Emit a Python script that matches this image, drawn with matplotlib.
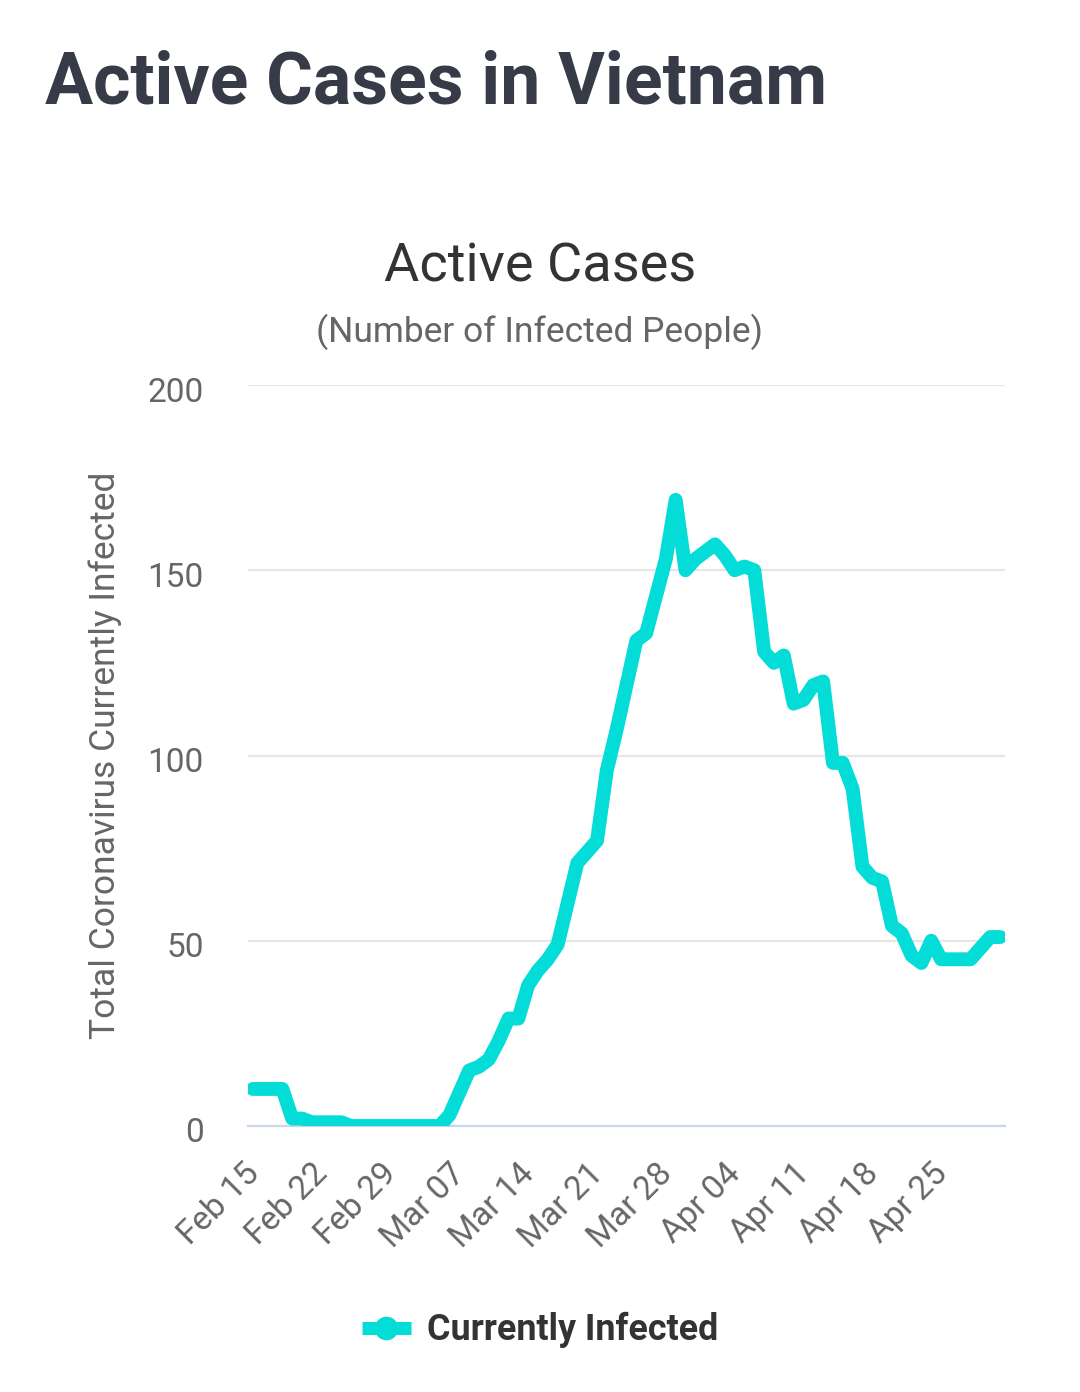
import numpy as np
import matplotlib.pyplot as plt
from matplotlib.lines import Line2D
from matplotlib.transforms import ScaledTranslation

# daily active cases, Feb 15 .. May 1
tick_labels = ['Feb 15', 'Feb 22', 'Feb 29', 'Mar 07', 'Mar 14', 'Mar 21',
               'Mar 28', 'Apr 04', 'Apr 11', 'Apr 18', 'Apr 25']
active = [10, 10, 10, 10, 2, 2, 1, 1, 1, 1,
          0, 0, 0, 0, 0, 0, 0, 0, 0, 0,
          3, 9, 15, 16, 18, 23, 29, 29, 38, 42,
          45, 49, 60, 71, 74, 77, 96, 107, 119, 131,
          133, 143, 153, 169, 150, 153, 155, 157, 154, 150,
          151, 150, 128, 125, 127, 114, 115, 119, 120, 98,
          98, 91, 70, 67, 66, 54, 52, 46, 44, 50,
          45, 45, 45, 45, 48, 51, 51]
y_ticks = [0, 50, 100, 150, 200]

cyan = '#04dcd8'
grey = '#666666'

plt.rcParams['font.family'] = ['Roboto', 'DejaVu Sans']

W, H = 1080, 1392
fig = plt.figure(figsize=(W / 100, H / 100), dpi=100)
ax = fig.add_axes([248 / W, 1 - 1126 / H, (1005 - 248) / W, (1126 - 385) / H])

x = np.arange(len(active))
ax.plot(x, active, color=cyan, lw=10, solid_joinstyle='round',
        solid_capstyle='round', zorder=3)

ax.set_xlim(-0.5, len(active) - 0.5)
ax.set_ylim(0, 200)
ax.set_yticks(y_ticks)
ax.set_xticks(x[::7])
ax.set_xticklabels(tick_labels, rotation=45, ha='right', rotation_mode='anchor')

ax.grid(axis='y', color='#e6e6e6', lw=1.6)
ax.set_axisbelow(True)
for s in ['top', 'right', 'left']:
    ax.spines[s].set_visible(False)
ax.spines['bottom'].set_color('#ccd6eb')
ax.spines['bottom'].set_linewidth(1.6)
ax.tick_params(length=0, colors=grey, labelsize=24)
ax.tick_params(axis='y', pad=32)
ax.tick_params(axis='x', pad=20)

# nudge labels to where the reference puts them
for lab in ax.get_xticklabels():
    lab.set_transform(lab.get_transform() + ScaledTranslation(-0.10, -0.04, fig.dpi_scale_trans))
for lab in ax.get_yticklabels():
    lab.set_transform(lab.get_transform() + ScaledTranslation(0, -0.04, fig.dpi_scale_trans))

fig.text(45 / W, 1 - 103 / H, 'Active Cases in Vietnam', fontsize=51.5,
         fontweight='bold', color='#373a47', ha='left', va='baseline')
fig.text(540 / W, 1 - 282 / H, 'Active Cases', fontsize=39,
         color='#333333', ha='center', va='baseline')
fig.text(540 / W, 1 - 342 / H, '(Number of Infected People)', fontsize=25.5,
         color=grey, ha='center', va='baseline')
fig.text(105 / W, 1 - 755 / H, 'Total Coronavirus Currently Infected',
         fontsize=25.5, color=grey, rotation=90, ha='center', va='center')

handle = Line2D([0], [0], color=cyan, lw=9.4, solid_capstyle='butt',
                marker='o', ms=16)
leg = fig.legend(handles=[handle], labels=['Currently Infected'], loc='center',
                 bbox_to_anchor=(540 / W, 1 - 1330 / H), frameon=False,
                 prop={'weight': 'bold', 'size': 25.8}, handlelength=1.37,
                 handletextpad=0.45)
for t in leg.get_texts():
    t.set_color('#333333')

fig.savefig('out.png', dpi=100)
